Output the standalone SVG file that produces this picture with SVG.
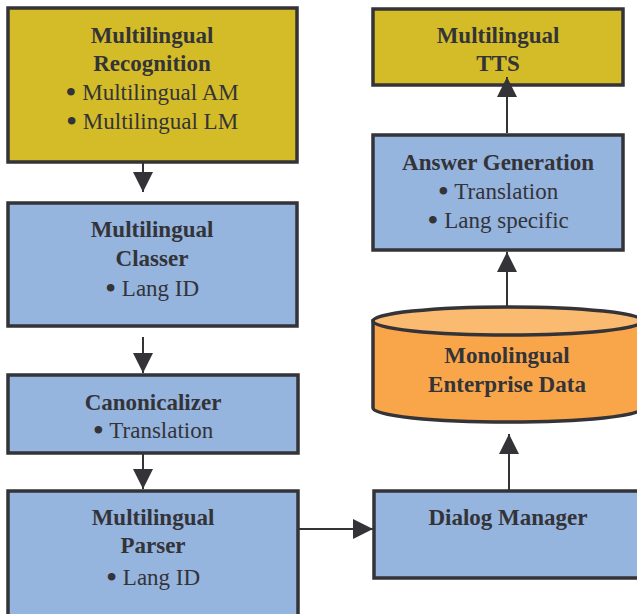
<svg xmlns="http://www.w3.org/2000/svg" width="637" height="614" viewBox="0 0 637 614">
<style>
text{font-family:'Liberation Serif','Times New Roman',serif;font-size:23px;fill:#333338;text-anchor:middle}
.box{stroke:#333338;stroke-width:3.5}
.y{fill:#D4BC28}
.b{fill:#95B4DE}
.h{font-weight:bold}
.c{stroke:#333338;stroke-width:2;fill:none}
.bu{font-size:32px}
</style>
<defs>
<marker id="ah" viewBox="0 0 20 20" refX="20" refY="10" markerWidth="20" markerHeight="20" markerUnits="userSpaceOnUse" orient="auto">
<path d="M0,0 L20,10 L0,20 Z" fill="#333338"/>
</marker>
</defs>
<rect width="637" height="614" fill="#ffffff"/>
<g id="connectors">
<line class="c" x1="143" y1="163" x2="143" y2="192" marker-end="url(#ah)"/>
<line class="c" x1="143" y1="337" x2="143" y2="373" marker-end="url(#ah)"/>
<line class="c" x1="143" y1="453" x2="143" y2="489" marker-end="url(#ah)"/>
<line class="c" x1="298" y1="529" x2="373" y2="529" marker-end="url(#ah)"/>
<line class="c" x1="509" y1="490" x2="509" y2="434" marker-end="url(#ah)"/>
<line class="c" x1="507" y1="307" x2="507" y2="252" marker-end="url(#ah)"/>
</g>
<g id="recognition">
<rect class="box y" x="8" y="8" width="289" height="154"/>
<text class="h" x="152" y="43">Multilingual</text>
<text class="h" x="152" y="71">Recognition</text>
<text x="152" y="100"><tspan class="bu" dy="3">•</tspan><tspan dy="-3"> Multilingual AM</tspan></text>
<text x="152" y="129"><tspan class="bu" dy="3">•</tspan><tspan dy="-3"> Multilingual LM</tspan></text>
</g>
<g id="classer">
<rect class="box b" x="8" y="203" width="289" height="123"/>
<text class="h" x="152" y="237">Multilingual</text>
<text class="h" x="152" y="266">Classer</text>
<text x="152" y="296"><tspan class="bu" dy="3">•</tspan><tspan dy="-3"> Lang ID</tspan></text>
</g>
<g id="canonicalizer">
<rect class="box b" x="8" y="375" width="290" height="78"/>
<text class="h" x="153" y="410">Canonicalizer</text>
<text x="153" y="438"><tspan class="bu" dy="3">•</tspan><tspan dy="-3"> Translation</tspan></text>
</g>
<g id="parser">
<rect class="box b" x="8" y="491" width="290" height="130"/>
<text class="h" x="153" y="525">Multilingual</text>
<text class="h" x="153" y="553">Parser</text>
<text x="153" y="585"><tspan class="bu" dy="3">•</tspan><tspan dy="-3"> Lang ID</tspan></text>
</g>
<g id="dialog-manager">
<rect class="box b" x="374" y="491" width="275" height="87"/>
<text class="h" x="508" y="525">Dialog Manager</text>
</g>
<g id="enterprise-data">
<path class="box" fill="#F9A64A" d="M373,321 L373,408 A135,14 0 0 0 643,408 L643,321 Z"/>
<ellipse class="box" fill="#FABA70" cx="508" cy="321" rx="135" ry="14"/>
<text class="h" x="507" y="363">Monolingual</text>
<text class="h" x="507" y="392">Enterprise Data</text>
</g>
<g id="answer-generation">
<rect class="box b" x="373" y="135" width="250" height="115"/>
<text class="h" x="498" y="170">Answer Generation</text>
<text x="498" y="199"><tspan class="bu" dy="3">•</tspan><tspan dy="-3"> Translation</tspan></text>
<text x="498" y="228"><tspan class="bu" dy="3">•</tspan><tspan dy="-3"> Lang specific</tspan></text>
</g>
<g id="tts">
<rect class="box y" x="373" y="9" width="250" height="76"/>
<text class="h" x="498" y="43">Multilingual</text>
<text class="h" x="498" y="71">TTS</text>
</g>
<line class="c" x1="507" y1="133" x2="507" y2="77" marker-end="url(#ah)"/>
</svg>
